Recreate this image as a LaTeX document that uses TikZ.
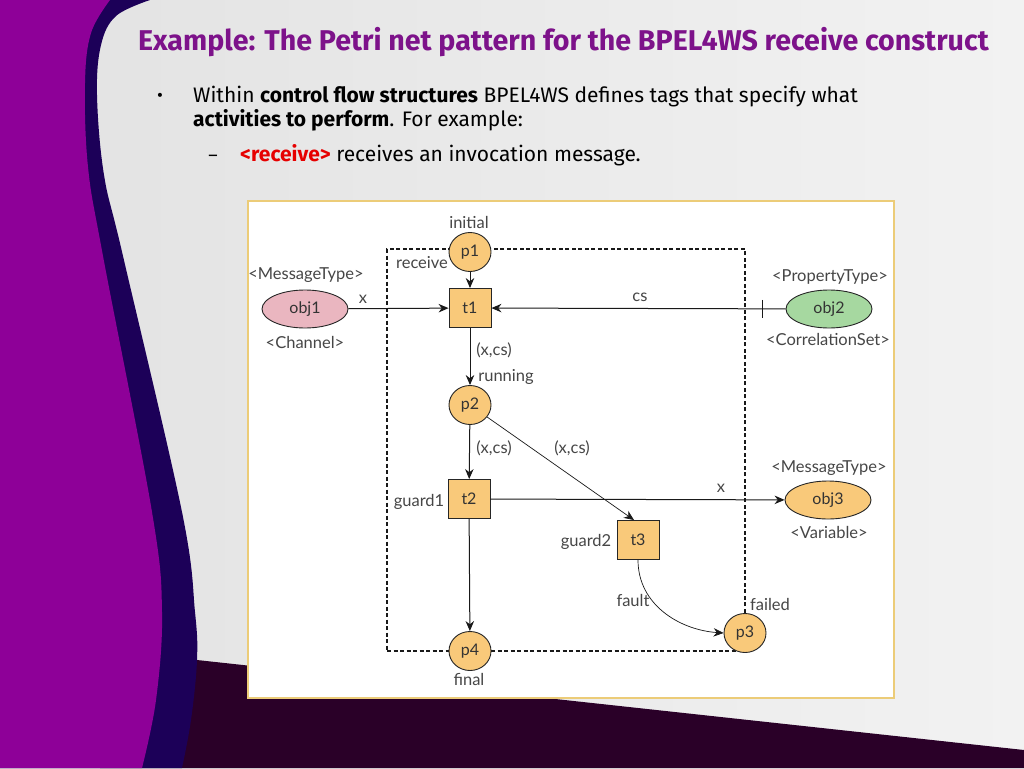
\documentclass[tikz,border=0pt]{standalone}
\usepackage{fontspec}
\setmainfont{Fira Sans}
\newfontfamily\diafont{Lato}
\usetikzlibrary{shapes.geometric,arrows.meta,calc}
\definecolor{purpleBg}{RGB}{142,0,152}
\definecolor{navyBg}{RGB}{28,0,88}
\definecolor{darkBg}{RGB}{42,0,40}
\definecolor{grayA}{RGB}{226,226,226}
\definecolor{grayB}{RGB}{242,242,242}
\definecolor{titleC}{RGB}{125,18,138}
\definecolor{placeC}{RGB}{249,201,122}
\definecolor{pinkC}{RGB}{234,182,192}
\definecolor{greenC}{RGB}{166,216,160}
\definecolor{borderC}{RGB}{236,204,120}
\definecolor{labC}{RGB}{70,70,70}
\definecolor{redC}{RGB}{230,0,0}
\tikzset{
  place/.style={ellipse,draw=black!85,line width=0.9pt,fill=placeC,minimum width=42pt,minimum height=39pt,inner sep=0pt,font=\diafont\fontsize{16}{16}\selectfont,text=black!80},
  trans/.style={rectangle,draw=black!85,line width=0.9pt,fill=placeC,minimum width=42pt,minimum height=39pt,inner sep=0pt,font=\diafont\fontsize{16}{16}\selectfont,text=black!80},
  objnode/.style={ellipse,draw=black!85,line width=0.9pt,minimum width=86pt,minimum height=38pt,inner sep=0pt,font=\diafont\fontsize{16}{16}\selectfont,text=black!80},
  lab/.style={font=\diafont\fontsize{16.5}{16.5}\selectfont,text=labC,inner sep=0pt},
  arr/.style={-{Stealth[length=10pt,width=8.5pt]},line width=1pt,black!90},
  body/.style={anchor=base west,inner sep=0pt,font=\fontsize{21}{21}\selectfont},
}
\begin{document}
\begin{tikzpicture}[x=1pt,y=-1pt]
\useasboundingbox (0,0) rectangle (1024,768);
% background
\shade[left color=grayA,right color=grayB] (0,0) rectangle (1024,768);
\fill[darkBg] (100,655) -- (197,660) -- (1024,750) -- (1024,768) -- (100,768) -- cycle;
\fill[navyBg] (0,0) -- (150,0) -- plot[smooth,tension=0.6] coordinates {(150,0) (116,16) (101,45) (97,95) (104,175) (123,256) (182,512) (195,612) (197,660) (191,720) (182,768)} -- (0,768) -- cycle;
\fill[purpleBg] (0,0) -- (110,0) -- plot[smooth,tension=0.6] coordinates {(110,0) (91,33) (85,83) (88,167) (103,256) (152,512) (162,612) (156,700) (142,768)} -- (0,768) -- cycle;
% title and text
\node[anchor=base west,inner sep=0pt,text=titleC,font=\bfseries\fontsize{28.6}{28.6}\selectfont] (title) at (138,50) {Example: The Petri net pattern for the BPEL4WS receive construct};
\node[anchor=base,inner sep=0pt,font=\fontsize{18}{18}\selectfont] (bul) at (160,101) {•};
\node[body] (l1) at (193,102) {Within \textbf{control flow structures} BPEL4WS defines tags that specify what};
\node[body] (l2) at (193,126) {\textbf{activities to perform}. For example:};
\node[anchor=base,inner sep=0pt,font=\fontsize{18}{18}\selectfont] (dash) at (213,161) {–};
\node[body] (l3) at (240,161) {\textcolor{redC}{\textbf{<receive>}} receives an invocation message.};
% diagram box
\node[draw=borderC,line width=1.5pt,fill=white,minimum width=646pt,minimum height=497pt,inner sep=0pt] (box) at (571,449.5) {};
\node[draw=black!90,dashed,line width=1.3pt,dash pattern=on 4pt off 2.5pt,minimum width=358pt,minimum height=402pt,inner sep=0pt] (recv) at (566,450) {};
% nodes
\node[place] (p1) at (470,252) {p1};
\node[trans] (t1) at (470,308) {t1};
\node[place] (p2) at (470,405) {p2};
\node[trans] (t2) at (469,499) {t2};
\node[trans] (t3) at (638,540) {t3};
\node[place] (p4) at (470,651) {p4};
\node[place] (p3) at (745,633) {p3};
\node[objnode,fill=pinkC] (obj1) at (305,309) {obj1};
\node[objnode,fill=greenC] (obj2) at (829,309) {obj2};
\node[objnode,fill=placeC] (obj3) at (828,500) {obj3};
% labels
\node[lab] (linit) at (469,222) {initial};
\node[lab] (lrecv) at (422,263) {receive};
\node[lab] (lmt1) at (306,275) {<MessageType>};
\node[lab] (lch) at (305,342) {<Channel>};
\node[lab] (lpt) at (830,277) {<PropertyType>};
\node[lab] (lcs) at (828,339) {<CorrelationSet>};
\node[lab] (lmt3) at (829,468) {<MessageType>};
\node[lab] (lvar) at (829,532) {<Variable>};
\node[lab] (lrun) at (506,377) {running};
\node[lab] (lg1) at (419,502) {guard1};
\node[lab] (lg2) at (586,542) {guard2};
\node[lab] (lfail) at (770,604) {failed};
\node[lab] (lfinal) at (469,679) {final};
\node[lab] (lx1) at (363,299) {x};
\node[lab] (lcs2) at (640,297) {cs};
\node[lab] (lxc1) at (494,350) {(x,cs)};
\node[lab] (lxc2) at (494,448) {(x,cs)};
\node[lab] (lxc3) at (572,448) {(x,cs)};
\node[lab] (lx3) at (721,488) {x};
\node[lab] (lfault) at (633,600) {fault};
% connectors
\draw[arr] (p1) -- (t1);
\draw[arr] (obj1) -- (t1);
\draw[arr] (obj2) -- (t1) coordinate[pos=0.078] (tk);
\draw[line width=1pt,black!90] ($(tk)+(0,-9)$) -- ($(tk)+(0,9)$);
\draw[arr] (t1) -- (p2);
\draw[arr] (p2) -- (t2);
\draw[arr,line width=0.7pt] (p2) -- ([xshift=-4pt]t3.north);
\draw[arr] (t2) -- (obj3);
\draw[arr] (t2) -- (p4);
\draw[arr,line width=0.7pt] (t3.south) .. controls (638,605) and (680,630) .. (p3.west);
\end{tikzpicture}
\end{document}
